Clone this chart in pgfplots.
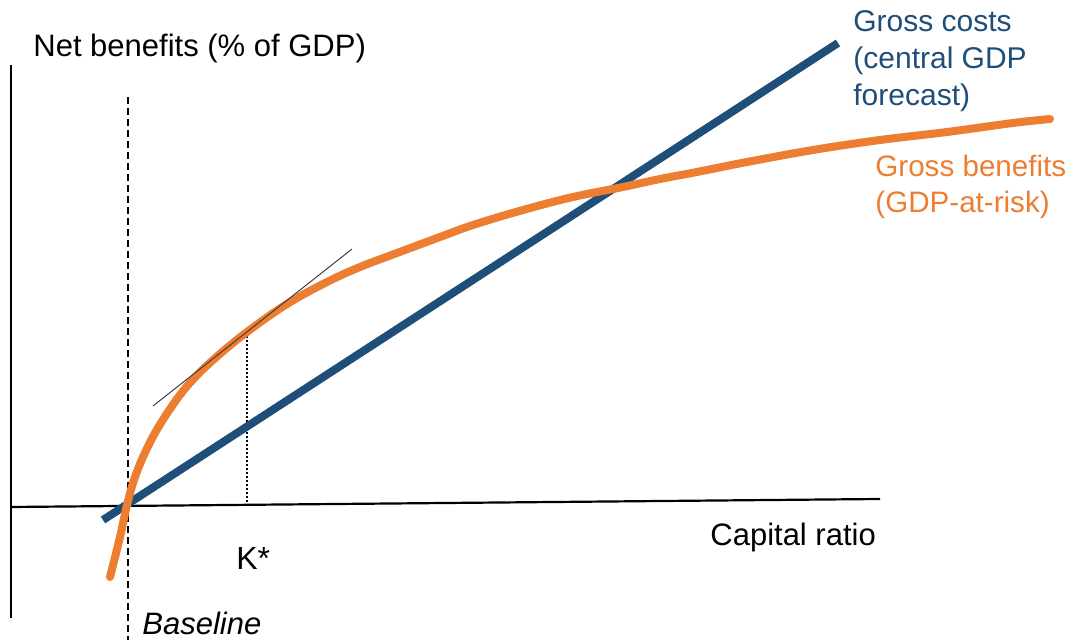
\documentclass[border=0pt]{standalone}
\usepackage{pgfplots}
\pgfplotsset{compat=1.18}
\usepackage{fontspec}
\setmainfont{Liberation Sans}
\definecolor{costblue}{RGB}{31,78,121}
\definecolor{benorange}{RGB}{237,125,49}
\begin{document}
\begin{tikzpicture}
\begin{axis}[
  scale only axis, width=536pt, height=320pt,
  xmin=0, xmax=1072, ymin=0, ymax=640, y dir=reverse,
  hide axis, clip=false,
]
\coordinate (bl) at (0,640);
\coordinate (tr) at (1072,0);
% axes
\addplot[black, line width=0.9pt] coordinates {(11,65) (11,618)};
\addplot[black, line width=1.1pt] coordinates {(11,507) (880,499)};
% baseline
\addplot[black, line width=1.1pt, dash pattern=on 3.5pt off 2pt] coordinates {(128,97) (128,640)};
% K* dotted
\addplot[black, line width=1pt, dash pattern=on 1pt off 1pt] coordinates {(247,332) (247,503)};
% gross costs
\addplot[costblue, line width=4pt] coordinates {(103,520) (838,43)};
% gross benefits
\addplot[benorange, line width=4pt, line cap=round, smooth, tension=0.6] coordinates {
(110,577) (120,537) (127,505) (134,480) (143,457) (155,433) (170,409) (188,385) (213,360)
(247,332) (287,304) (327,282) (360,267) (397,253) (440,237) (473,225) (523,210) (573,197)
(623,187) (660,179) (697,172) (747,162) (813,150) (880,140) (947,132) (1013,123) (1050,119)};
% tangent
\addplot[black!75, line width=0.5pt] coordinates {(153,406) (352,249)};
% labels
\tikzset{lbl/.style={anchor=base west, inner sep=0pt}}
\node[lbl, font=\fontsize{15.5pt}{18pt}\selectfont] at (33,57) {Net benefits (\% of GDP)};
\node[lbl, font=\fontsize{15.5pt}{18pt}\selectfont] at (710,546) {Capital ratio};
\node[lbl, font=\fontsize{16pt}{18pt}\selectfont] at (236,570) {K*};
\node[lbl, font=\fontsize{15.5pt}{18pt}\selectfont\itshape] at (142,635) {Baseline};
\node[lbl, text=costblue, font=\fontsize{15pt}{18pt}\selectfont] at (853,32) {Gross costs};
\node[lbl, text=costblue, font=\fontsize{15pt}{18pt}\selectfont] at (853,69) {(central GDP};
\node[lbl, text=costblue, font=\fontsize{15pt}{18pt}\selectfont] at (853,106) {forecast)};
\node[lbl, text=benorange, font=\fontsize{14.8pt}{18pt}\selectfont] at (875,177) {Gross benefits};
\node[lbl, text=benorange, font=\fontsize{14.8pt}{18pt}\selectfont] at (875,213) {(GDP-at-risk)};
\end{axis}
\pgfresetboundingbox
\path[use as bounding box] (bl) rectangle (tr);
\end{tikzpicture}
\end{document}
